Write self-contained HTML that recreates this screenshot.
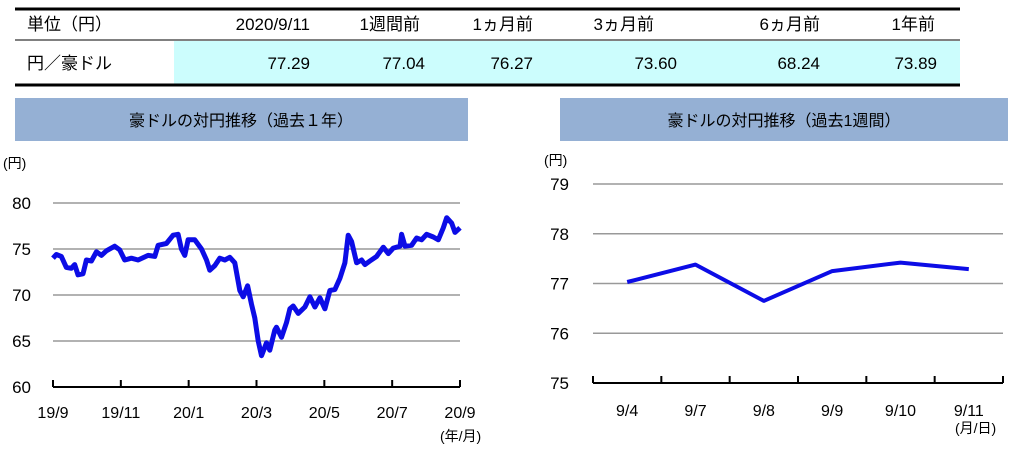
<!DOCTYPE html>
<html><head><meta charset="utf-8">
<style>
body{margin:0;background:#fff;width:1022px;height:450px;overflow:hidden;font-family:"Liberation Sans","Noto Sans CJK JP",sans-serif;}
svg text{font-family:"Liberation Sans","Noto Sans CJK JP",sans-serif;}
</style></head><body>
<svg id="s" width="1022" height="450" viewBox="0 0 1022 450" xmlns="http://www.w3.org/2000/svg">
<g>
<rect x="174" y="41" width="786" height="43" fill="#ccfdfd"/>
<line x1="15" y1="9" x2="960" y2="9" stroke="#000" stroke-width="3"/>
<line x1="15" y1="40" x2="960" y2="40" stroke="#000" stroke-width="1"/>
<line x1="15" y1="85" x2="960" y2="85" stroke="#000" stroke-width="3"/>
<g font-size="17" fill="#000">
<text x="27" y="30">単位（円）</text>
<text x="310" y="30" text-anchor="end">2020/9/11</text>
<text x="420" y="30" text-anchor="end">1週間前</text>
<text x="533" y="30" text-anchor="end">1ヵ月前</text>
<text x="654" y="30" text-anchor="end">3ヵ月前</text>
<text x="820" y="30" text-anchor="end">6ヵ月前</text>
<text x="935" y="30" text-anchor="end">1年前</text>
<text x="27" y="69">円／豪ドル</text>
<text x="310" y="69" text-anchor="end">77.29</text>
<text x="425" y="69" text-anchor="end">77.04</text>
<text x="533" y="69" text-anchor="end">76.27</text>
<text x="677" y="69" text-anchor="end">73.60</text>
<text x="820" y="69" text-anchor="end">68.24</text>
<text x="937" y="69" text-anchor="end">73.89</text>
</g></g>
<rect x="15" y="98" width="453" height="43" fill="#95b0d4"/>
<text x="241" y="126" font-size="16" text-anchor="middle">豪ドルの対円推移（過去１年）</text>
<rect x="560" y="98" width="448" height="43" fill="#95b0d4"/>
<text x="784" y="126" font-size="16" text-anchor="middle">豪ドルの対円推移（過去1週間）</text>
<g id="L"></g>
<g id="R"></g>
</svg>
<script>
const yearTicks=[60,65,70,75,80];
const yearXLabels=["19/9","19/11","20/1","20/3","20/5","20/7","20/9"];
const yearDays=[0,3,7.5,12,16.5,19.5,22.5,27,30,34.5,39,43.5,48,55.5,60,64.5,70.5,76.5,85.5,91.5,94.5,102,108,112.5,115.5,118.5,121.5,127.5,133.5,138,141,145.5,150,154.5,159,163.5,168,171,175,178.5,181.5,184.5,187.5,192,195,199.5,201,205.5,210,213,216,220.5,226.5,231,235.5,240,244.5,249,253.5,258,262.5,265.5,268.5,273,277.5,280.5,285,291,297,301.5,306,312,313.5,316.5,322.5,327,331.5,336,342,346.5,351,354,358.5,361.5,366];
const yearRates=[74.0,74.4,74.2,73.0,72.9,73.3,72.2,72.3,73.8,73.7,74.7,74.3,74.8,75.3,74.9,73.8,74.0,73.8,74.3,74.2,75.4,75.6,76.5,76.6,75.0,74.3,76.0,76.0,75.0,73.8,72.7,73.2,74.0,73.8,74.1,73.5,70.5,69.8,71.0,69.0,67.5,65.0,63.4,64.8,64.0,66.2,66.5,65.4,67.0,68.5,68.8,68.0,68.7,69.8,68.7,69.7,68.5,70.5,70.6,71.8,73.5,76.5,75.8,73.5,73.8,73.3,73.7,74.2,75.2,74.5,75.1,75.3,76.6,75.3,75.4,76.2,76.0,76.6,76.3,76.0,77.3,78.4,77.8,76.8,77.3];
const weekCats=["9/4","9/7","9/8","9/9","9/10","9/11"];
const weekRates=[77.03,77.38,76.65,77.25,77.42,77.29];
const weekTicks=[75,76,77,78,79];
const NS="http://www.w3.org/2000/svg";
function mk(p,t,a,txt){const e=document.createElementNS(NS,t);for(const k in a)e.setAttribute(k,a[k]);if(txt!==undefined)e.textContent=txt;p.appendChild(e);return e;}
(function(){
const g=document.getElementById('L');
const x0=53,x1=460,yb=387,yt=203,vmin=60,vmax=80,dmax=366;
const X=d=>x0+d/dmax*(x1-x0);
const Y=v=>yb-(v-vmin)/(vmax-vmin)*(yb-yt);
yearTicks.forEach(v=>{
 if(v>vmin){const l=mk(g,'line',{x1:x0,x2:x1,y1:Y(v),y2:Y(v),stroke:'#999','stroke-width':1.5});
 
 }
 const t=mk(g,'text',{x:31,y:Y(v)+6,'font-size':17,'text-anchor':'end'},String(v));
 
 
});
const ax=mk(g,'line',{x1:x0,x2:x1,y1:yb,y2:yb,stroke:'#000','stroke-width':2});


yearXLabels.forEach((s,i)=>{
 const x=x0+i*(x1-x0)/(yearXLabels.length-1);
 const tk=mk(g,'line',{x1:x,x2:x,y1:yb-7,y2:yb,stroke:'#000','stroke-width':2});
 
 
 const t=mk(g,'text',{x:x,y:418,'font-size':16,'text-anchor':'middle'},s);
 
 
});
const u=mk(g,'text',{x:3,y:168,'font-size':14},'(円)');


const u2=mk(g,'text',{x:440,y:441,'font-size':14},'(年/月)');


const pts=yearDays.map((d,i)=>X(d).toFixed(1)+','+Y(yearRates[i]).toFixed(1)).join(' ');
const pl=mk(g,'polyline',{points:pts,fill:'none',stroke:'#0c0ce6','stroke-width':5,'stroke-linejoin':'round'});


})();
(function(){
const g=document.getElementById('R');
const x0=593,x1=1003,yb=383,yt=184,vmin=75,vmax=79;
const n=weekCats.length,bw=(x1-x0)/n;
const X=i=>x0+(i+0.5)*bw;
const Y=v=>yb-(v-vmin)/(vmax-vmin)*(yb-yt);
weekTicks.forEach(v=>{
 if(v>vmin){const l=mk(g,'line',{x1:x0,x2:x1,y1:Y(v),y2:Y(v),stroke:'#999','stroke-width':1.5});
 
 }
 const t=mk(g,'text',{x:569,y:Y(v)+6,'font-size':17,'text-anchor':'end'},String(v));
 
 
});
const ax=mk(g,'line',{x1:x0,x2:x1,y1:yb,y2:yb,stroke:'#000','stroke-width':2});


for(let i=0;i<=n;i++){
 const x=x0+i*bw;
 const tk=mk(g,'line',{x1:x,x2:x,y1:yb-7,y2:yb,stroke:'#000','stroke-width':2});
 
 
}
weekCats.forEach((s,i)=>{
 const t=mk(g,'text',{x:X(i),y:416,'font-size':16,'text-anchor':'middle'},s);
 
 
});
const u=mk(g,'text',{x:544,y:165,'font-size':14},'(円)');


const u2=mk(g,'text',{x:955,y:433,'font-size':14},'(月/日)');


const pts=weekRates.map((v,i)=>X(i).toFixed(1)+','+Y(v).toFixed(1)).join(' ');
const pl=mk(g,'polyline',{points:pts,fill:'none',stroke:'#0c0ce6','stroke-width':4,'stroke-linejoin':'round'});


})();
</script>
</body></html>
